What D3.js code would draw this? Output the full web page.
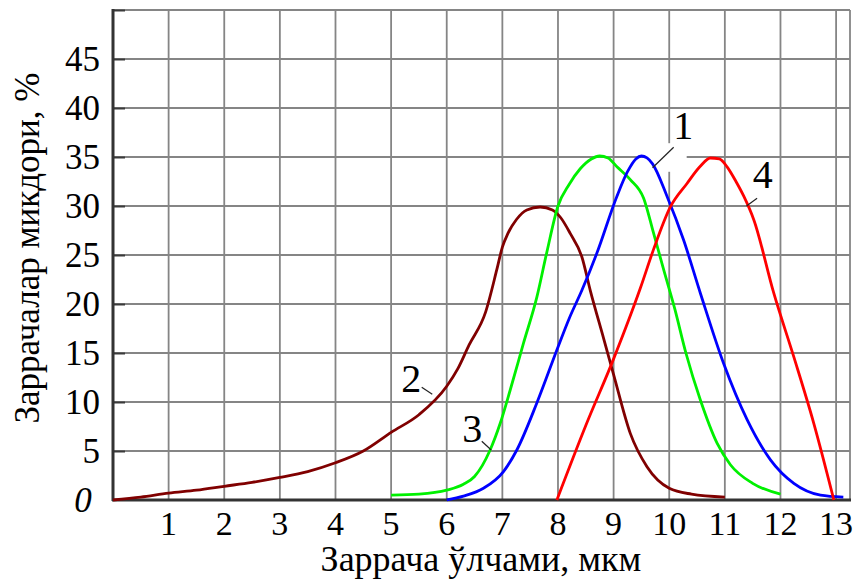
<!DOCTYPE html>
<html>
<head>
<meta charset="utf-8">
<script src="https://cdn.jsdelivr.net/npm/d3@7"></script>
<style>
  html, body { margin: 0; padding: 0; background: #fff; }
  svg { display: block; }
  text { font-family: "Liberation Serif", "Times New Roman", serif; fill: #000; }
</style>
</head>
<body>
<svg id="chart" width="855" height="580"></svg>
<script>
// Particle size (µm) and share (%) for each sample curve
const sizes1 = [6, 6.3, 6.66, 7.02, 7.26, 7.62, 7.98, 8.2, 8.43, 8.7, 9.06, 9.25, 9.4, 9.5, 9.6, 9.7, 9.96, 10.26, 10.56, 10.98, 11.4, 11.82, 12.24, 12.72, 13.13];
const shares1 = [0, 0.4, 1.2, 2.9, 5.1, 9.9, 15.3, 18.5, 21.4, 25.2, 31, 33.5, 34.8, 35.1, 34.9, 34.3, 31, 26.5, 21.1, 13.9, 8.2, 4.1, 1.7, 0.5, 0.3];

const sizes2 = [0, 0.5, 1, 1.5, 2, 2.5, 3, 3.5, 4, 4.5, 5, 5.5, 6, 6.2, 6.4, 6.7, 6.9, 7.0, 7.1, 7.25, 7.44, 7.68, 7.9, 8.05, 8.22, 8.43, 8.58, 8.82, 9.0, 9.3, 9.6, 10.0, 10.4, 11.0];
const shares2 = [0, 0.3, 0.7, 1.0, 1.4, 1.8, 2.3, 2.9, 3.8, 5.0, 6.9, 8.7, 11.6, 13.4, 15.8, 19.2, 23.5, 25.8, 27.2, 28.6, 29.6, 29.9, 29.6, 28.8, 27.2, 24.8, 21.4, 16.5, 12.8, 6.8, 3.4, 1.2, 0.6, 0.3];

const sizes3 = [5, 5.5, 6, 6.3, 6.5, 6.78, 6.96, 7.14, 7.38, 7.62, 7.8, 8.0, 8.2, 8.4, 8.6, 8.75, 8.9, 9.06, 9.3, 9.54, 9.72, 9.9, 10.1, 10.3, 10.56, 10.86, 11.1, 11.5, 12.0];
const shares3 = [0.5, 0.6, 1.0, 1.6, 2.4, 5.1, 7.8, 11.2, 16, 20.7, 25.3, 30.0, 32.2, 33.8, 34.8, 35.1, 34.9, 34.0, 32.7, 30.8, 27.2, 23.5, 19.5, 15.0, 10.2, 5.8, 3.6, 1.7, 0.6];

const sizes4 = [7.98, 8.5, 9.0, 9.48, 9.72, 10.02, 10.32, 10.55, 10.74, 10.9, 11.04, 11.2, 11.34, 11.52, 11.88, 12.24, 12.6, 12.96];
const shares4 = [0, 7.6, 14.4, 21.6, 25.6, 29.9, 32.3, 34.0, 34.9, 34.8, 34.0, 32.5, 31.0, 28.6, 21.1, 14.6, 7.8, 0];

const seriesNames = ["2", "3", "1", "4"];
const xTicks = [1, 2, 3, 4, 5, 6, 7, 8, 9, 10, 11, 12, 13];
const yTicks = [5, 10, 15, 20, 25, 30, 35, 40, 45];
const xTitle = "Заррача ўлчами, мкм";
const yTitle = "Заррачалар микдори, %";

const series = {
  "1": { xs: sizes1, ys: shares1, color: "#0000ff" },
  "2": { xs: sizes2, ys: shares2, color: "#800000" },
  "3": { xs: sizes3, ys: shares3, color: "#00f000" },
  "4": { xs: sizes4, ys: shares4, color: "#ff0000" }
};

// Curve number labels with their leader lines (data units)
const callouts = [
  { name: "1", tx: 10.25, ty: 36.8, x1: 10.08, y1: 36.0, x2: 9.7, y2: 33.9, knockout: true },
  { name: "2", tx: 5.36, ty: 11.0, x1: 5.55, y1: 11.5, x2: 5.74, y2: 10.8 },
  { name: "3", tx: 6.46, ty: 5.9, x1: 6.63, y1: 6.0, x2: 6.8, y2: 5.1 },
  { name: "4", tx: 11.68, ty: 31.8, x1: 11.58, y1: 30.8, x2: 11.39, y2: 30.0 }
];

const svg = d3.select("#chart");
const padL = 113, padR = 850, padT = 10, padB = 500;

const x = d3.scaleLinear().domain([0, 13.25]).range([padL, padR]);
const y = d3.scaleLinear().domain([0, 50]).range([padB, padT]);

// Grid
const grid = svg.append("g").attr("stroke", "#858585").attr("stroke-width", 1.8);
grid.selectAll("line.v").data(xTicks).join("line").attr("class", "v")
  .attr("x1", d => x(d)).attr("x2", d => x(d))
  .attr("y1", y(50)).attr("y2", y(0));
grid.selectAll("line.h").data(yTicks.concat([50])).join("line").attr("class", "h")
  .attr("x1", x(0)).attr("x2", x(13.25))
  .attr("y1", d => y(d)).attr("y2", d => y(d));
grid.append("line")
  .attr("x1", x(13.25)).attr("x2", x(13.25))
  .attr("y1", y(50)).attr("y2", y(0));

// White patch behind the leader of label 1
callouts.filter(c => c.knockout).forEach(c => {
  const xa = Math.min(x(c.x1), x(c.x2)) - 8, xb = Math.max(x(c.x1), x(c.x2)) + 13;
  const ya = Math.min(y(c.y1), y(c.y2)) - 4, yb = Math.max(y(c.y1), y(c.y2)) + 4;
  svg.append("rect").attr("x", xa).attr("y", ya)
    .attr("width", xb - xa).attr("height", yb - ya).attr("fill", "#fff");
});

// Axes
const yAxis = d3.axisLeft(y).tickValues(yTicks.concat([50])).tickSize(-12).tickFormat("");
svg.append("g").attr("transform", `translate(${padL},0)`).call(yAxis)
  .call(g => g.select(".domain").remove())
  .call(g => g.selectAll(".tick line").attr("stroke", "#3a3a3a").attr("stroke-width", 2));

svg.append("line").attr("x1", padL).attr("x2", padL).attr("y1", y(50) - 1).attr("y2", y(0) + 1)
  .attr("stroke", "#333").attr("stroke-width", 3);
svg.append("line").attr("x1", padL - 1).attr("x2", padR + 1).attr("y1", y(0)).attr("y2", y(0))
  .attr("stroke", "#333").attr("stroke-width", 3);

// Tick labels
svg.append("g").selectAll("text").data(yTicks).join("text")
  .attr("x", padL - 13).attr("y", d => y(d)).attr("dy", "0.34em")
  .attr("text-anchor", "end").attr("font-size", 35)
  .text(d => d);
svg.append("text").attr("x", 83).attr("y", y(0)).attr("dy", "0.34em")
  .attr("text-anchor", "middle").attr("font-size", 35).attr("font-style", "italic")
  .text("0");
svg.append("g").selectAll("text").data(xTicks).join("text")
  .attr("x", d => x(d)).attr("y", 535)
  .attr("text-anchor", "middle").attr("font-size", 34)
  .text(d => d);

// Axis titles
svg.append("text").attr("x", 481).attr("y", 571)
  .attr("text-anchor", "middle").attr("font-size", 36).text(xTitle);
svg.append("text").attr("transform", "translate(39,248) rotate(-90)")
  .attr("text-anchor", "middle").attr("font-size", 35).attr("fill", "#1a1a1a").text(yTitle);

// Curves
const line = d3.line().x(d => x(d[0])).y(d => y(d[1])).curve(d3.curveMonotoneX);
svg.append("g").selectAll("path").data(seriesNames).join("path")
  .attr("d", n => line(d3.zip(series[n].xs, series[n].ys)))
  .attr("fill", "none")
  .attr("stroke", n => series[n].color)
  .attr("stroke-width", 2.8)
  .attr("stroke-linejoin", "round");

// Curve labels and leaders
const ann = svg.append("g");
ann.selectAll("line").data(callouts).join("line")
  .attr("x1", c => x(c.x1)).attr("y1", c => y(c.y1))
  .attr("x2", c => x(c.x2)).attr("y2", c => y(c.y2))
  .attr("stroke", "#222").attr("stroke-width", 1.2);
ann.selectAll("text").data(callouts).join("text")
  .attr("x", c => x(c.tx)).attr("y", c => y(c.ty))
  .attr("text-anchor", "middle").attr("font-size", 40)
  .text(c => c.name);
</script>
</body>
</html>
